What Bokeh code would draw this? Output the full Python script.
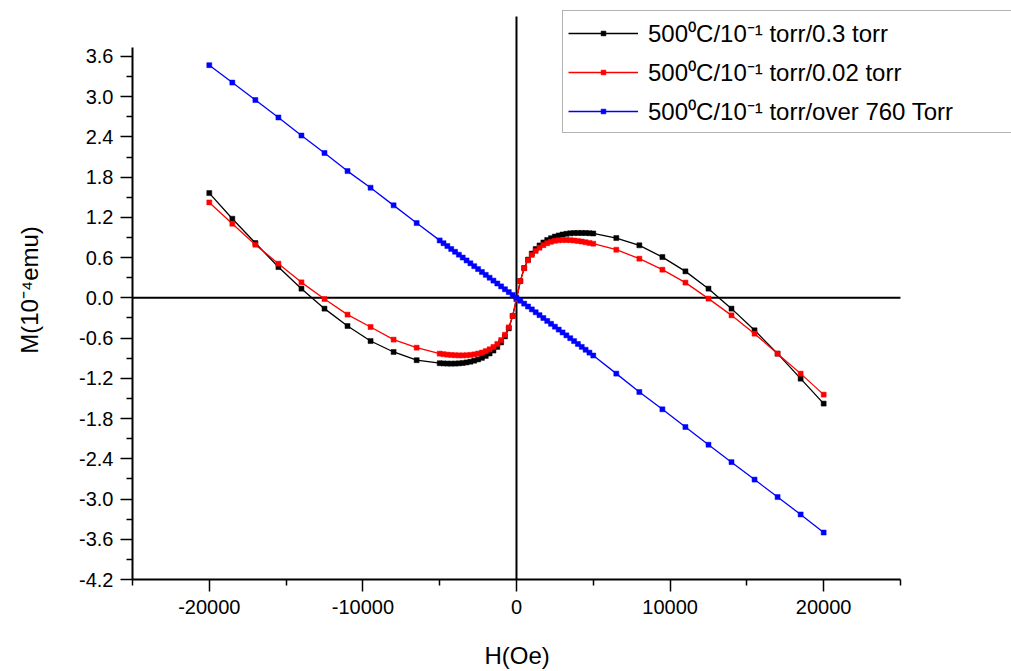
from bokeh.plotting import figure
from bokeh.models import Range1d, FixedTicker, PrintfTickFormatter, Legend, LegendItem, Title
from bokeh.embed import file_html
from bokeh.resources import INLINE

# ---- data ----
H = [-20000, -18500, -17000, -15500, -14000, -12500, -11000, -9500, -8000, -6500,
     -5000, -4750, -4500, -4250, -4000, -3750, -3500, -3250, -3000, -2750,
     -2500, -2250, -2000, -1750, -1500, -1250, -1000, -750, -500, -250,
     0, 250, 500, 750, 1000, 1250, 1500, 1750, 2000, 2250,
     2500, 2750, 3000, 3250, 3500, 3750, 4000, 4250, 4500, 4750, 5000,
     6500, 8000, 9500, 11000, 12500, 14000, 15500, 17000, 18500, 20000]

M_black = [1.562, 1.18, 0.817, 0.459, 0.137, -0.161, -0.42, -0.644, -0.807, -0.93,
           -0.975, -0.978, -0.980, -0.981, -0.980, -0.977, -0.972, -0.963, -0.952, -0.937,
           -0.918, -0.895, -0.866, -0.830, -0.786, -0.732, -0.665, -0.575, -0.455, -0.270,
           -0.020, 0.250, 0.445, 0.570, 0.660, 0.728, 0.782, 0.826, 0.862, 0.890,
           0.913, 0.931, 0.945, 0.955, 0.962, 0.966, 0.968, 0.968, 0.967, 0.964, 0.960,
           0.891, 0.783, 0.608, 0.395, 0.137, -0.161, -0.484, -0.832, -1.205, -1.577]

M_red = [1.423, 1.106, 0.793, 0.51, 0.231, -0.018, -0.25, -0.435, -0.623, -0.743,
         -0.832, -0.840, -0.847, -0.852, -0.856, -0.858, -0.858, -0.856, -0.851, -0.843,
         -0.831, -0.815, -0.794, -0.767, -0.732, -0.688, -0.630, -0.550, -0.440, -0.270,
         -0.020, 0.250, 0.440, 0.560, 0.640, 0.700, 0.748, 0.786, 0.815, 0.836,
         0.850, 0.858, 0.862, 0.862, 0.860, 0.855, 0.848, 0.839, 0.829, 0.819, 0.808,
         0.718, 0.584, 0.420, 0.227, -0.012, -0.261, -0.534, -0.832, -1.130, -1.443]

M_blue = [3.47, 3.21, 2.95, 2.69, 2.42, 2.16, 1.89, 1.643, 1.379, 1.115,
          0.857, 0.815, 0.772, 0.729, 0.687, 0.644, 0.601, 0.558, 0.515, 0.472,
          0.429, 0.386, 0.343, 0.300, 0.257, 0.214, 0.171, 0.128, 0.086, 0.043,
          0.000, -0.043, -0.086, -0.129, -0.172, -0.215, -0.258, -0.301, -0.344, -0.387,
          -0.430, -0.473, -0.516, -0.559, -0.602, -0.645, -0.688, -0.731, -0.774, -0.817, -0.860,
          -1.13, -1.404, -1.662, -1.926, -2.19, -2.45, -2.71, -2.97, -3.23, -3.50]

series_labels = ["500\u2070C/10\u207b\u00b9 torr/0.3 torr",
                 "500\u2070C/10\u207b\u00b9 torr/0.02 torr",
                 "500\u2070C/10\u207b\u00b9 torr/over 760 Torr"]
series_colors = ["#000000", "#ff0000", "#0000ff"]

x_major_ticks = [-20000, -10000, 0, 10000, 20000]
x_minor_ticks = [-25000, -15000, -5000, 5000, 15000, 25000]
y_major_ticks = [-4.2, -3.6, -3.0, -2.4, -1.8, -1.2, -0.6, 0.0, 0.6, 1.2, 1.8, 2.4, 3.0, 3.6]
y_minor_ticks = [-3.9, -3.3, -2.7, -2.1, -1.5, -0.9, -0.3, 0.3, 0.9, 1.5, 2.1, 2.7, 3.3]

x_axis_extent = (-25000, 25000)
y_axis_extent = (-4.2, 3.74)
zero_vline_top = 4.196

FONT = "Liberation Sans"

# frame spans the whole upper-right area so the legend can sit past the axis end
p = figure(width=1011, height=671, output_backend="svg", toolbar_location=None,
           x_range=Range1d(-25000, 32229), y_range=Range1d(-4.2, 4.434),
           min_border_left=132, min_border_right=0, min_border_top=0, min_border_bottom=92)
p.outline_line_color = None
p.background_fill_color = "white"
p.border_fill_color = "white"
p.grid.visible = False

# zero lines
p.segment(x0=[x_axis_extent[0]], y0=[0], x1=[x_axis_extent[1]], y1=[0],
          line_color="black", line_width=2, level="underlay")
p.segment(x0=[0], y0=[y_axis_extent[0]], x1=[0], y1=[zero_vline_top],
          line_color="black", line_width=2, level="underlay")

items = []
for M, lab, col in zip([M_black, M_red, M_blue], series_labels, series_colors):
    lr = p.line(H, M, line_color=col, line_width=1.3)
    sr = p.scatter(H, M, marker="square", size=5, fill_color=col, line_color=col, line_width=0.5)
    items.append(LegendItem(label=lab, renderers=[lr, sr]))

legend = Legend(items=items, location=(430, 446), orientation="vertical",
                label_text_font=FONT, label_text_font_size="24px", label_text_color="black",
                glyph_width=70, glyph_height=12, label_height=12, label_width=359,
                label_standoff=10, spacing=6, padding=5, margin=0,
                border_line_color="#666666", border_line_width=1.5,
                background_fill_color="white", background_fill_alpha=1.0)
p.add_layout(legend, "center")

# axes
xa = p.xaxis[0]
xa.ticker = FixedTicker(ticks=x_major_ticks, minor_ticks=x_minor_ticks)
xa.formatter = PrintfTickFormatter(format="%d")
xa.bounds = x_axis_extent
xa.axis_label = "\u00a0"   # blank spacer; the visible title is placed below it
ya = p.yaxis[0]
ya.ticker = FixedTicker(ticks=y_major_ticks, minor_ticks=y_minor_ticks)
ya.formatter = PrintfTickFormatter(format="%.1f")
ya.axis_label = "M(10\u207b\u2074emu)"
ya.bounds = y_axis_extent

for ax in (xa, ya):
    ax.axis_line_width = 2
    ax.axis_line_color = "black"
    ax.major_tick_line_width = 1.5
    ax.minor_tick_line_width = 1.5
    ax.major_tick_line_color = "black"
    ax.minor_tick_line_color = "black"
    ax.major_tick_in = 0
    ax.major_tick_out = 12
    ax.minor_tick_in = 0
    ax.minor_tick_out = 6
    ax.major_label_text_font = FONT
    ax.major_label_text_font_size = "20px"
    ax.major_label_text_color = "black"
    ax.axis_label_text_font = FONT
    ax.axis_label_text_font_size = "24px"
    ax.axis_label_text_font_style = "normal"
    ax.axis_label_text_color = "black"

xa.axis_label_text_font_size = "18px"
xa.major_label_standoff = 8
xa.axis_label_standoff = 0
ya.major_label_standoff = 7
ya.axis_label_standoff = 33

# x-axis title, centred under the drawn axis (frame runs past the axis end)
xtitle = Title(text="H(Oe)", align="left", offset=352, text_font=FONT,
               text_font_size="24px", text_font_style="normal", text_color="black",
               standoff=0, vertical_align="bottom")
p.add_layout(xtitle, "below")

open("out.html", "w").write(file_html(p, INLINE))
